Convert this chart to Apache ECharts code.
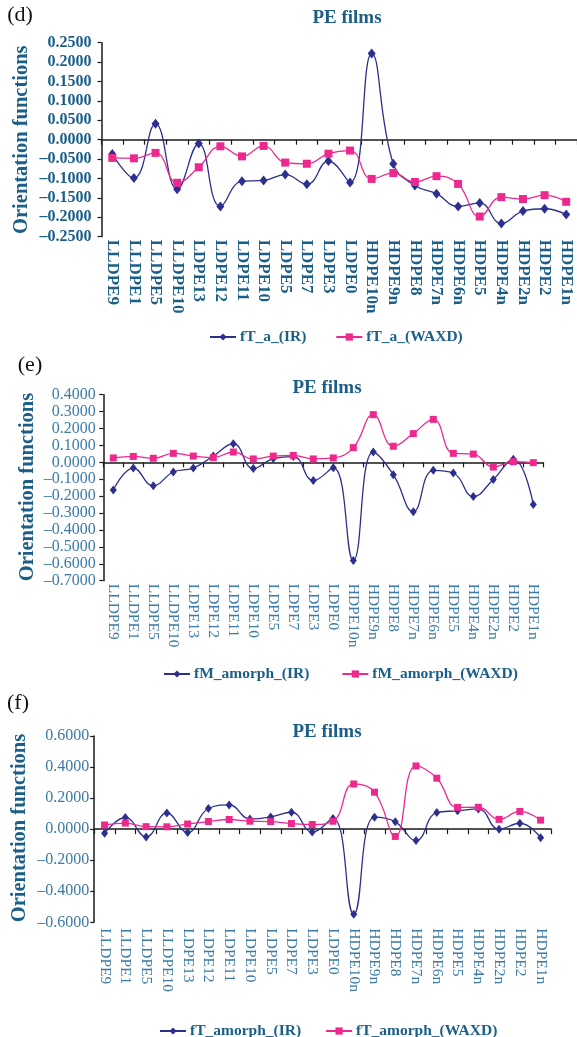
<!DOCTYPE html>
<html>
<head>
<meta charset="utf-8">
<script src="https://cdn.jsdelivr.net/npm/echarts@6/dist/echarts.min.js"></script>
<style>
html,body{margin:0;padding:0;background:#fff;}
#chart{width:577px;height:1037px;}
</style>
</head>
<body>
<div id="chart"></div>
<script>
const categories = ['LLDPE9','LLDPE1','LLDPE5','LLDPE10','LDPE13','LDPE12','LDPE11','LDPE10','LDPE5','LDPE7','LDPE3','LDPE0','HDPE10n','HDPE9n','HDPE8','HDPE7n','HDPE6n','HDPE5','HDPE4n','HDPE2n','HDPE2','HDPE1n'];

// Panel (d)
const fTa_IR   = [-0.037,-0.099,0.041,-0.128,-0.010,-0.172,-0.107,-0.105,-0.090,-0.115,-0.055,-0.110,0.222,-0.062,-0.118,-0.139,-0.172,-0.163,-0.216,-0.184,-0.178,-0.193];
const fTa_WAXD = [-0.047,-0.048,-0.034,-0.111,-0.071,-0.017,-0.043,-0.016,-0.059,-0.062,-0.036,-0.028,-0.101,-0.086,-0.109,-0.094,-0.114,-0.198,-0.148,-0.153,-0.143,-0.160];

// Panel (e)
const fM_IR   = [-0.164,-0.034,-0.139,-0.057,-0.034,0.037,0.110,-0.037,0.022,0.034,-0.108,-0.032,-0.580,0.061,-0.073,-0.292,-0.047,-0.063,-0.202,-0.101,0.018,-0.250];
const fM_WAXD = [0.026,0.035,0.024,0.053,0.037,0.028,0.061,0.020,0.037,0.041,0.020,0.026,0.087,0.282,0.095,0.170,0.254,0.053,0.049,-0.028,0.004,-0.002];

// Panel (f)
const fTam_IR   = [-0.027,0.075,-0.050,0.104,-0.022,0.133,0.156,0.066,0.079,0.109,-0.019,0.069,-0.548,0.077,0.047,-0.073,0.107,0.118,0.130,0.000,0.038,-0.055];
const fTam_WAXD = [0.027,0.039,0.016,0.015,0.033,0.049,0.062,0.051,0.049,0.036,0.030,0.051,0.291,0.238,-0.047,0.407,0.328,0.140,0.141,0.063,0.114,0.058];

const yTicksD = {min:-0.25, max:0.25, interval:0.05};
const yTicksE = {min:-0.7, max:0.4, interval:0.1};
const yTicksF = {min:-0.6, max:0.6, interval:0.2};

const SERIF = '"Liberation Serif","Times New Roman",serif';
const DARK = '#1b5e87';
const LIGHT = '#3b7ba6';
const NAVY = '#2c2f8e';
const PINK = '#ec2a8e';

function fmt(v){
  const r = Math.round(v*10000)/10000;
  const s = Math.abs(r).toFixed(4);
  return r < 0 ? '\u2013' + s : s;
}

const panels = [
  {grid:{left:101.5, top:42.7, width:481, height:194}, yt:yTicksD, bold:true, tickColor:DARK, ir:fTa_IR, wx:fTa_WAXD,
   names:['fT_a_(IR)','fT_a_(WAXD)'], labMargin:3, labSize:17, yMargin:10, legend:{left:204, top:324, gap:29},
   title:{x:342, y:13.5}, tag:{t:'(d)', x:20, y:15}, yname:{x:22, y:139.7}, sym:[8,10], sq:8},
  {grid:{left:103.3, top:394.7, width:440, height:186}, yt:yTicksE, bold:false, tickColor:LIGHT, ir:fM_IR, wx:fM_WAXD,
   names:['fM_amorph_(IR)','fM_amorph_(WAXD)'], labMargin:3, labSize:15.5, yMargin:7.5, legend:{left:158, top:661, gap:32},
   title:{x:322, y:382.7}, tag:{t:'(e)', x:30, y:365}, yname:{x:28, y:487}, sym:[7,9], sq:7},
  {grid:{left:94.2, top:736, width:456.8, height:186.3}, yt:yTicksF, bold:false, tickColor:LIGHT, ir:fTam_IR, wx:fTam_WAXD,
   names:['fT_amorph_(IR)','fT_amorph_(WAXD)'], labMargin:6, labSize:15.5, yMargin:5, legend:{left:154, top:1018, gap:24},
   title:{x:322, y:727}, tag:{t:'(f)', x:18, y:703}, yname:{x:19.5, y:828}, sym:[7,9], sq:7}
];

const option = {
  animation:false,
  backgroundColor:'#fff',
  title:[], grid:[], xAxis:[], yAxis:[], series:[], legend:[], graphic:[]
};

panels.forEach((p, i) => {
  option.grid.push(Object.assign({containLabel:false}, p.grid));
  option.title.push({
    text:'PE films', left:p.title.x, top:p.title.y, textAlign:'center', textVerticalAlign:'middle',
    textStyle:{fontFamily:SERIF, fontSize:19, fontWeight:'bold', color:DARK}
  });
  option.graphic.push({type:'text', x:p.tag.x, y:p.tag.y,
    style:{text:p.tag.t, font:'22px ' + SERIF, fill:'#111', align:'center', verticalAlign:'middle'}});
  option.graphic.push({type:'text', x:p.yname.x, y:p.yname.y, rotation:Math.PI/2,
    style:{text:'Orientation functions', font:'bold 20.5px ' + SERIF, fill:DARK, align:'center', verticalAlign:'middle'}});
  // zero-line axis with ticks
  option.xAxis.push({
    type:'category', gridIndex:i, data:categories, position:'bottom', boundaryGap:true,
    axisLine:{show:true, onZero:true, lineStyle:{color:'#1a1a1a', width:1.5}},
    axisTick:{show:true, interval:0, length:5, lineStyle:{color:'#1a1a1a', width:1.2}},
    axisLabel:{show:false}, splitLine:{show:false}
  });
  // bottom labels axis
  option.xAxis.push({
    type:'category', gridIndex:i, data:categories, position:'bottom', boundaryGap:true,
    axisLine:{show:false, onZero:false}, axisTick:{show:false}, splitLine:{show:false},
    axisLabel:{show:true, interval:0, rotate:-90, margin:p.labMargin,
      fontFamily:SERIF, fontSize:p.labSize, fontWeight:p.bold?'bold':'normal', color:p.tickColor}
  });
  option.yAxis.push({
    type:'value', gridIndex:i, min:p.yt.min, max:p.yt.max, interval:p.yt.interval,
    axisLine:{show:true, onZero:false, lineStyle:{color:'#1a1a1a', width:1.5}},
    axisTick:{show:true, length:4, lineStyle:{color:'#1a1a1a', width:1.2}},
    splitLine:{show:false},
    axisLabel:{show:true, margin:p.yMargin, showMinLabel:true, showMaxLabel:true,
      fontFamily:SERIF, fontSize:16, fontWeight:p.bold?'bold':'normal', color:p.tickColor,
      formatter:fmt}
  });
  option.series.push({
    name:p.names[0], type:'line', xAxisIndex:2*i, yAxisIndex:i, data:p.ir, smooth:0.45,
    symbol:'diamond', symbolSize:p.sym, itemStyle:{color:NAVY}, lineStyle:{color:NAVY, width:1.3}, z:2
  });
  option.series.push({
    name:p.names[1], type:'line', xAxisIndex:2*i, yAxisIndex:i, data:p.wx, smooth:0.45,
    symbol:'rect', symbolSize:p.sq, itemStyle:{color:PINK}, lineStyle:{color:PINK, width:1.3}, z:3
  });
  option.legend.push({
    data:p.names, left:p.legend.left, top:p.legend.top, orient:'horizontal',
    itemWidth:26, itemHeight:9, itemGap:p.legend.gap, selectedMode:false,
    textStyle:{fontFamily:SERIF, fontSize:15.5, fontWeight:'bold', color:DARK, padding:[0,0,0,-1]}
  });
});

const chart = echarts.init(document.getElementById('chart'), null, {renderer:'canvas'});
chart.setOption(option);
</script>
</body>
</html>
